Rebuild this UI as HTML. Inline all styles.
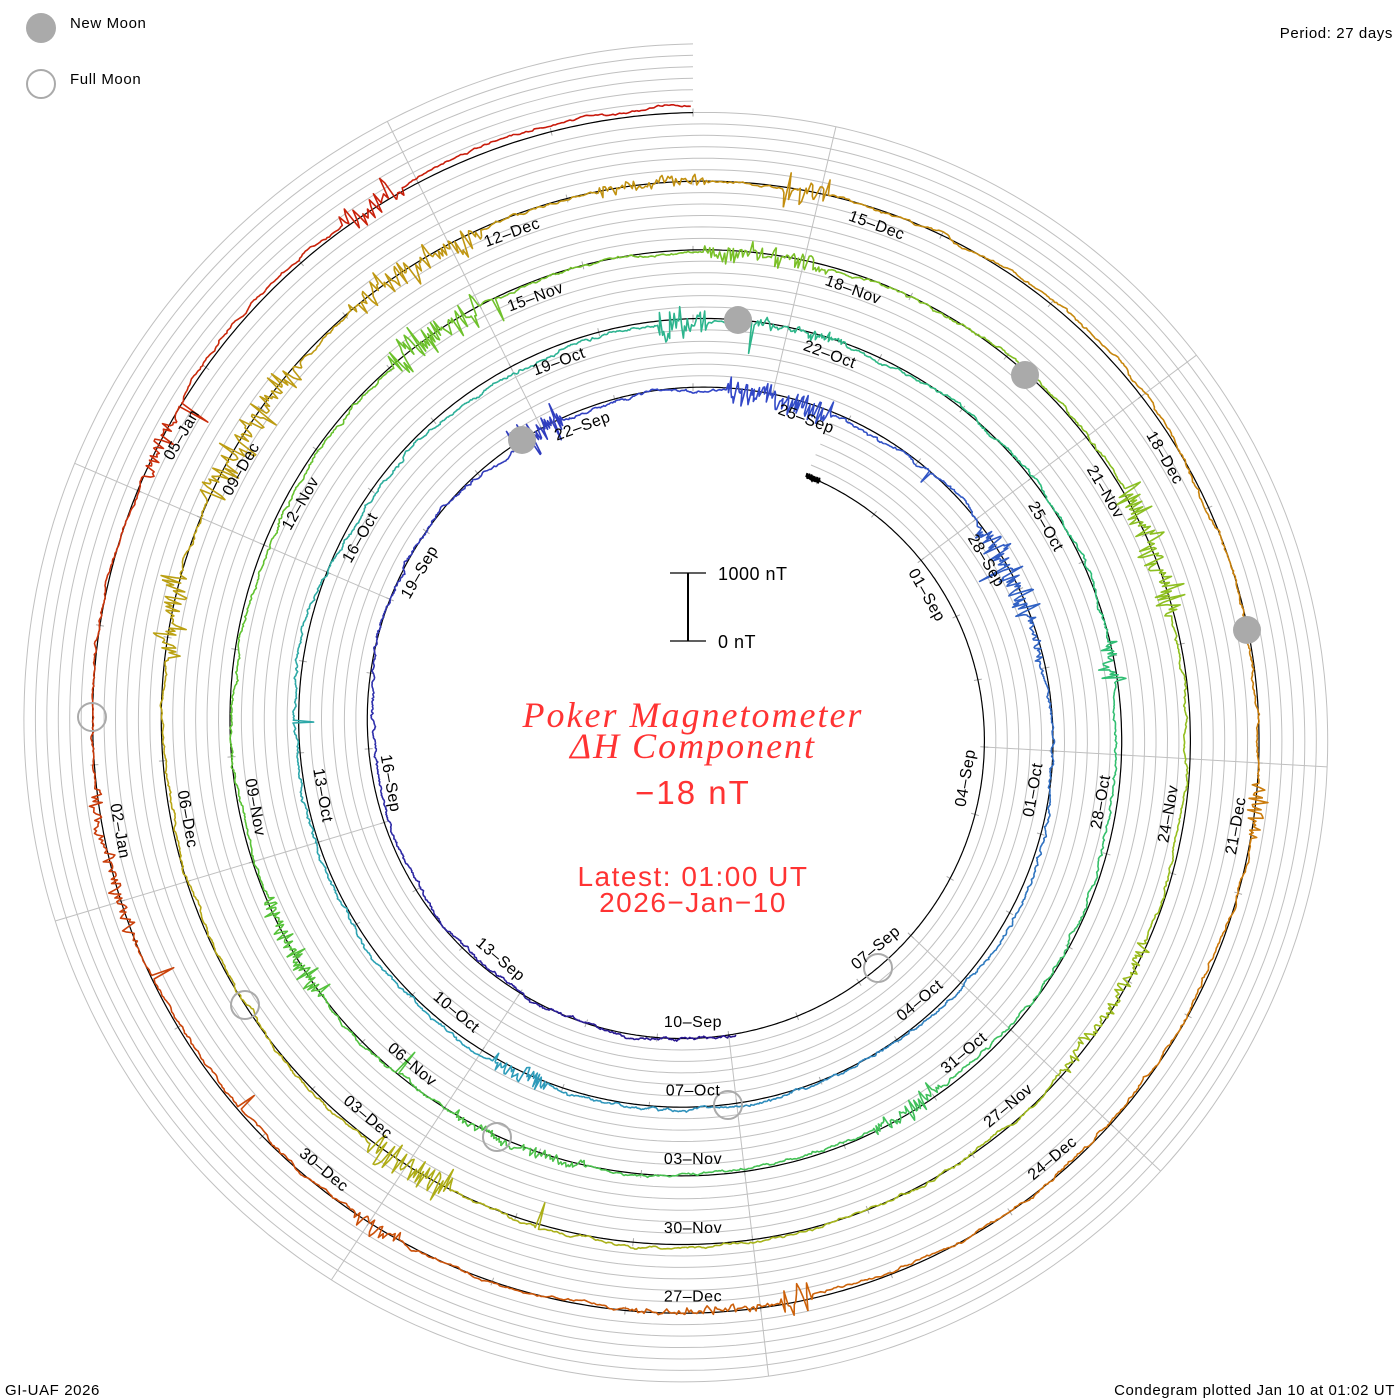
<!DOCTYPE html>
<html><head><meta charset="utf-8">
<style>
html,body{margin:0;padding:0;background:#fff;}
svg{display:block;}
.lab{font-family:"Liberation Sans",sans-serif;font-size:16px;fill:#000;letter-spacing:0.5px;}
.t{font-family:"Liberation Sans",sans-serif;font-size:15px;fill:#000;letter-spacing:0.6px;}
</style></head>
<body>
<svg id="s" width="1400" height="1400" viewBox="0 0 1400 1400" xmlns="http://www.w3.org/2000/svg">
<g id="grid"></g>
<g id="ticks"></g>
<g id="base"></g>
<g id="data"></g>
<g id="moons">
<circle cx="522" cy="440" r="14" fill="#aaa"/>
<circle cx="738" cy="320" r="14" fill="#aaa"/>
<circle cx="1025" cy="375" r="14" fill="#aaa"/>
<circle cx="1247" cy="630" r="14" fill="#aaa"/>
<circle cx="878" cy="968" r="14" fill="none" stroke="#aaa" stroke-width="2"/>
<circle cx="728" cy="1105" r="14" fill="none" stroke="#aaa" stroke-width="2"/>
<circle cx="497" cy="1137" r="14" fill="none" stroke="#aaa" stroke-width="2"/>
<circle cx="245" cy="1005" r="14" fill="none" stroke="#aaa" stroke-width="2"/>
<circle cx="92" cy="717" r="14" fill="none" stroke="#aaa" stroke-width="2"/>
</g>
<g id="labels">
<text class="lab">01–Sep</text><text class="lab">04–Sep</text><text class="lab">07–Sep</text><text class="lab">10–Sep</text><text class="lab">13–Sep</text><text class="lab">16–Sep</text><text class="lab">19–Sep</text><text class="lab">22–Sep</text><text class="lab">25–Sep</text><text class="lab">28–Sep</text>
<text class="lab">01–Oct</text><text class="lab">04–Oct</text><text class="lab">07–Oct</text><text class="lab">10–Oct</text><text class="lab">13–Oct</text><text class="lab">16–Oct</text><text class="lab">19–Oct</text><text class="lab">22–Oct</text><text class="lab">25–Oct</text><text class="lab">28–Oct</text><text class="lab">31–Oct</text>
<text class="lab">03–Nov</text><text class="lab">06–Nov</text><text class="lab">09–Nov</text><text class="lab">12–Nov</text><text class="lab">15–Nov</text><text class="lab">18–Nov</text><text class="lab">21–Nov</text><text class="lab">24–Nov</text><text class="lab">27–Nov</text><text class="lab">30–Nov</text>
<text class="lab">03–Dec</text><text class="lab">06–Dec</text><text class="lab">09–Dec</text><text class="lab">12–Dec</text><text class="lab">15–Dec</text><text class="lab">18–Dec</text><text class="lab">21–Dec</text><text class="lab">24–Dec</text><text class="lab">27–Dec</text><text class="lab">30–Dec</text>
<text class="lab">02–Jan</text><text class="lab">05–Jan</text>
</g>
<line x1="688" y1="573" x2="688" y2="641" stroke="#000" stroke-width="2"/>
<line x1="670" y1="573" x2="706" y2="573" stroke="#000" stroke-width="1.2"/>
<line x1="670" y1="641" x2="706" y2="641" stroke="#000" stroke-width="1.2"/>
<text x="718" y="580" class="lab" style="font-size:18px">1000 nT</text>
<text x="718" y="648" class="lab" style="font-size:18px">0 nT</text>
<g fill="#ff3333" text-anchor="middle">
<text x="693" y="727" font-family="Liberation Serif,serif" font-style="italic" font-size="36" letter-spacing="2">Poker Magnetometer</text>
<text x="693" y="758" font-family="Liberation Serif,serif" font-style="italic" font-size="36" letter-spacing="2">ΔH Component</text>
<text x="693" y="804" font-family="Liberation Sans,sans-serif" font-size="33" letter-spacing="2">−18 nT</text>
<text x="693" y="886" font-family="Liberation Sans,sans-serif" font-size="28" letter-spacing="1.5">Latest: 01:00 UT</text>
<text x="693" y="912" font-family="Liberation Sans,sans-serif" font-size="28" letter-spacing="1.5">2026−Jan−10</text>
</g>
<circle cx="41" cy="28" r="15" fill="#aaa"/>
<text x="70" y="28" class="t">New Moon</text>
<circle cx="41" cy="84" r="14" fill="none" stroke="#aaa" stroke-width="2"/>
<text x="70" y="84" class="t">Full Moon</text>
<text x="1393" y="38" class="t" text-anchor="end">Period: 27 days</text>
<text x="5" y="1395" class="t">GI-UAF 2026</text>
<text x="1395" y="1395" class="t" text-anchor="end">Condegram plotted Jan 10 at 01:02 UT</text>
</svg>
<script>
(function(){
var NS="http://www.w3.org/2000/svg";
var cx=693,cy=730,a=274,k=0.1908,P0=24,P1=1800,DAY=360/27;
function R(p){return a+k*p;}
function XY(p,r){var t=p*Math.PI/180;return [cx+r*Math.sin(t),cy-r*Math.cos(t)];}
function el(n,at,par){var e=document.createElementNS(NS,n);for(var q in at)e.setAttribute(q,at[q]);par.appendChild(e);return e;}
var grid=document.getElementById('grid'),ticks=document.getElementById('ticks'),base=document.getElementById('base'),data=document.getElementById('data');
var sp=11.45;
for(var j=1;j<=6;j++){
  var pts=[];
  for(var p=P0;p<=P1;p+=1){var q=XY(p,R(p)+j*sp);pts.push(q[0].toFixed(1)+","+q[1].toFixed(1));}
  el('polyline',{points:pts.join(' '),fill:'none',stroke:'#c0c0c0','stroke-width':1},grid);
}
for(var s=13.33;s<360;s+=40){
  var p1=s;while(p1<P0)p1+=360;
  var p2=s;while(p2+360<=P1)p2+=360;
  var A=XY(s,R(p1)),B=XY(s,R(p2)+6*sp);
  el('line',{x1:A[0],y1:A[1],x2:B[0],y2:B[1],stroke:'#c0c0c0','stroke-width':1},grid);
}
for(var n=-12;n<=125;n++){
  var p=180+DAY*(n+0.5);if(p<P0||p>P1)continue;
  var A=XY(p,R(p)-4),B=XY(p,R(p)+4);
  el('line',{x1:A[0],y1:A[1],x2:B[0],y2:B[1],stroke:'#aaa','stroke-width':1},ticks);
}
var pts=[];
for(var p=P0;p<=P1;p+=0.5){var q=XY(p,R(p));pts.push(q[0].toFixed(1)+","+q[1].toFixed(1));}
el('polyline',{points:pts.join(' '),fill:'none',stroke:'#000','stroke-width':1.2},base);
var pts=[];for(var p=P0;p<P0+3;p+=0.1){var q=XY(p,R(p)+(Math.sin(p*37)*3));pts.push(q[0].toFixed(1)+","+q[1].toFixed(1));}
el('polyline',{points:pts.join(' '),fill:'none',stroke:'#000','stroke-width':2},base);
var seed=4242;function rnd(){seed=(seed*16807)%2147483647;return seed/2147483647;}
function g(){return (rnd()+rnd()+rnd()-1.5)*2;}
var stops=[[0,[40,20,140]],[0.12,[50,70,200]],[0.25,[45,160,185]],[0.38,[45,190,120]],[0.5,[90,195,50]],[0.62,[150,190,30]],[0.72,[185,165,20]],[0.85,[205,120,10]],[1,[200,20,10]]];
function col(f){for(var i=1;i<stops.length;i++){if(f<=stops[i][0]){var a0=stops[i-1],b0=stops[i];var u=(f-a0[0])/(b0[0]-a0[0]);var c=[0,1,2].map(function(m){return Math.round(a0[1][m]+(b0[1][m]-a0[1][m])*u);});return 'rgb('+c.join(',')+')';}}return 'rgb(200,20,10)';}
var D0=172,step=0.2,v=0,w=0,burst=0,amp=0,chunk=[],ci=0;
for(var p=D0;p<=P1;p+=step){
  if(burst<=0&&rnd()<0.0035){burst=15+Math.floor(rnd()*90);amp=3+rnd()*12;}
  w=0.995*w+g()*0.35; if(w>8)w=8; if(w<-8)w=-8;
  v=0.8*v+g()*0.5;
  var d=w+v;
  if(burst>0){burst--;d+=amp*g()*0.6;}
  if(rnd()<0.0012){d-=12+rnd()*22;}
  var q=XY(p,R(p)+d);var str=q[0].toFixed(1)+","+q[1].toFixed(1);
  chunk.push(str);ci++;
  if(ci>=15){var f=(p-D0)/(P1-D0);el('polyline',{points:chunk.join(' '),fill:'none',stroke:col(f),'stroke-width':1.6,'stroke-linejoin':'round'},data);chunk=[str];ci=0;}
}
if(chunk.length>1)el('polyline',{points:chunk.join(' '),fill:'none',stroke:col(1),'stroke-width':1.6},data);
var labs=document.getElementById('labels').getElementsByTagName('text');
for(var i=0;i<labs.length;i++){
  var p=60+40*i;var q=XY(p,R(p)-16);
  var m=((p%360)+360)%360;var rot=(m>90&&m<270)?m-180:(m>=270?m-360:m);
  labs[i].setAttribute('x',q[0].toFixed(1));labs[i].setAttribute('y',q[1].toFixed(1));
  labs[i].setAttribute('text-anchor','middle');labs[i].setAttribute('dominant-baseline','central');
  labs[i].setAttribute('transform','rotate('+rot.toFixed(1)+' '+q[0].toFixed(1)+' '+q[1].toFixed(1)+')');
}
})();
</script>
</body></html>
